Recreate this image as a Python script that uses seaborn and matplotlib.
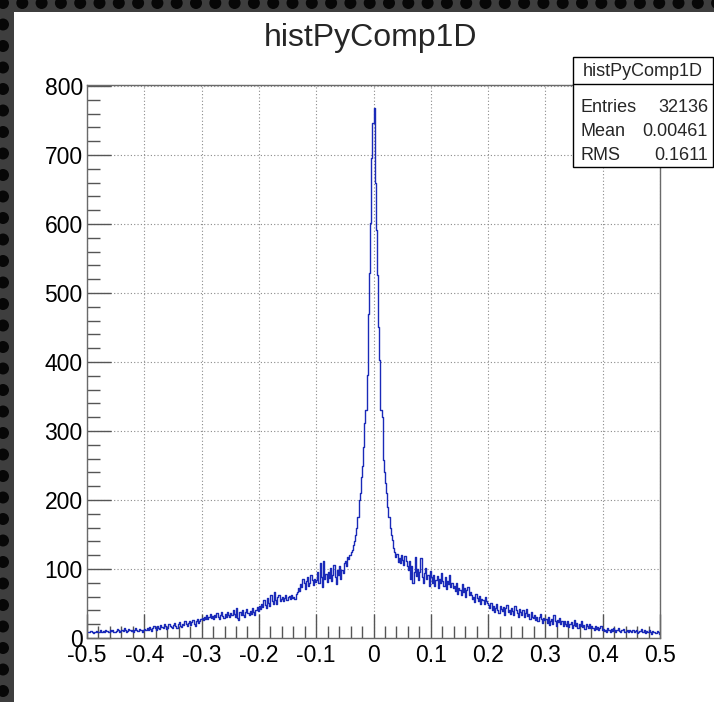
import numpy as np
import pandas as pd
import matplotlib
matplotlib.use("Agg")
import matplotlib.pyplot as plt
from matplotlib.patches import Rectangle, Circle
from matplotlib.ticker import MultipleLocator
import seaborn as sns

# ---- histogram contents: 500 bins of width 0.002 on [-0.5, 0.5] ----
n_bins = 500
x_min, x_max = -0.5, 0.5

counts_m050_m040 = [9, 8, 9, 10, 8, 7, 9, 8, 10, 9, 8, 11, 9, 8, 10, 9, 12, 10, 8, 9,
                    11, 10, 12, 9, 8, 10, 13, 11, 9, 10, 12, 10, 14, 11, 9, 10, 13, 12, 10, 11,
                    9, 12, 14, 11, 10, 13, 12, 11, 9, 12]
counts_m040_m030 = [13, 11, 14, 12, 16, 13, 10, 15, 18, 14, 12, 17, 15, 13, 19, 16, 14, 20, 17, 13,
                    15, 21, 18, 16, 14, 19, 22, 17, 15, 20, 23, 18, 16, 21, 19, 24, 20, 17, 22, 25,
                    19, 23, 26, 21, 18, 24, 27, 22, 25, 28]
counts_m030_m020 = [29, 26, 31, 28, 33, 27, 30, 35, 29, 32, 27, 34, 31, 36, 30, 28, 33, 37, 32, 29,
                    35, 31, 38, 34, 30, 36, 33, 40, 35, 31, 44, 29, 26, 38, 34, 41, 33, 30, 37, 42,
                    36, 33, 39, 35, 43, 38, 34, 41, 45, 39]
counts_m020_m010 = [46, 42, 50, 45, 55, 48, 44, 58, 51, 47, 62, 53, 49, 67, 55, 50, 59, 63, 54,
                    57, 60, 53, 58, 62, 55, 59, 61, 56, 63, 58, 60, 57, 64, 66,
                    72, 68, 78, 74, 85, 79, 71, 82, 88, 76, 80, 92, 84, 77, 86, 81]
counts_m010_m004 = [84, 96, 79, 108, 88, 74, 112, 86, 93, 81,
                    95, 87, 101, 83, 92, 106, 89, 78, 98, 91, 104, 86, 99, 94,
                    108, 112, 105, 118, 114, 121, 125]
counts_core = [128, 135, 140, 150, 160, 175, 200, 210, 233, 250,
               277, 311, 330, 381, 470, 529, 601, 696, 746, 768,
               659, 591, 526, 451, 403, 330, 320, 258, 240, 225,
               210, 190, 175, 160, 150, 142, 130, 125]
counts_p004_p010 = [118, 122, 110, 116, 108, 120, 113, 106, 119, 111, 104,
                    98, 112, 86, 104, 80, 95, 117, 90,
                    100, 84, 96, 116, 88, 79, 94, 102, 85, 91, 76, 97]
counts_p010_p020 = [88, 80, 92, 76, 84, 90, 73, 86, 79, 94, 82, 75, 88, 71, 83, 78, 91, 74, 80, 72,
                    76, 68, 80, 64, 73, 70, 62, 78, 66, 72, 60, 69, 74, 63, 67,
                    62, 56, 60, 52, 64, 58, 54, 61, 50, 57, 55, 49, 59, 53, 51]
counts_p020_p030 = [48, 43, 51, 40, 46, 38, 44, 50, 41, 36, 47, 42, 39, 45, 34, 43, 48, 37, 41, 35,
                    44, 39, 33, 46, 40, 36, 31, 42,
                    37, 33, 40, 30, 36, 42, 32, 35, 28, 38, 31,
                    29, 33, 26, 31, 24, 30, 35, 27, 22, 29, 26]
counts_p030_p040 = [27, 22, 30, 19, 25, 28, 21, 33, 24, 18, 26, 23, 29, 20, 24, 17, 25,
                    21, 18, 24, 16, 20, 23, 15, 19, 26, 17, 22, 14, 20, 18, 24, 16, 19, 13, 21, 17, 15, 20, 14, 18,
                    15, 12, 17, 13, 16, 11, 14, 18, 12]
counts_p040_p050 = [13, 10, 12, 9, 14, 11, 8, 13, 10, 15, 12, 9, 11, 14, 10, 8, 12, 11, 13, 9,
                    10, 12, 8, 11, 10,
                    9, 11, 8, 10, 12, 7, 9, 10, 13, 8, 9, 11, 7, 10, 8, 12, 9, 6, 10, 8, 9, 7, 10, 8, 6]

x_tick_values = [-0.5, -0.4, -0.3, -0.2, -0.1, 0.0, 0.1, 0.2, 0.3, 0.4, 0.5]
x_tick_labels = ["-0.5", "-0.4", "-0.3", "-0.2", "-0.1", "0", "0.1", "0.2", "0.3", "0.4", "0.5"]
y_tick_values = [0, 100, 200, 300, 400, 500, 600, 700, 800]
y_tick_labels = ["0", "100", "200", "300", "400", "500", "600", "700", "800"]

hist_name = "histPyComp1D"
stats_rows = [("Entries", "32136"), ("Mean", "0.00461"), ("RMS", "0.1611")]

counts = np.array(counts_m050_m040 + counts_m040_m030 + counts_m030_m020 + counts_m020_m010
                  + counts_m010_m004 + counts_core + counts_p004_p010 + counts_p010_p020
                  + counts_p020_p030 + counts_p030_p040 + counts_p040_p050, dtype=float)
edges = np.linspace(x_min, x_max, n_bins + 1)
centers = 0.5 * (edges[:-1] + edges[1:])
df = pd.DataFrame({"x": centers, "n": counts})

sns.set_theme(style="white")
plt.rcParams["font.family"] = ["Liberation Sans", "DejaVu Sans"]

W, H = 714, 702
fig = plt.figure(figsize=(W / 100, H / 100), dpi=100)
fig.patch.set_facecolor("#3e3e3e")

# perforated dark frame behind the canvas
bg = fig.add_axes([0, 0, 1, 1], zorder=0)
bg.set_xlim(0, W)
bg.set_ylim(H, 0)
bg.axis("off")
for cy in np.arange(3, H + 20, 21.5):
    for cx in np.arange(3, W + 20, 19.3):
        bg.add_patch(Circle((cx, cy), 6.0, color="#070707", lw=0))
bg.add_patch(Rectangle((14, 12), W - 14, H - 12, color="white", lw=0))

# main histogram frame
ax = fig.add_axes([87 / W, (H - 638) / H, 573 / W, 553 / H], zorder=2)
sns.histplot(data=df, x="x", weights="n", bins=n_bins, binrange=(x_min, x_max),
             element="step", fill=False, color="#1a2ab8", linewidth=1.0, ax=ax)
ax.set_xlim(x_min, x_max)
ax.set_ylim(0, 801.5)
ax.set_xlabel("")
ax.set_ylabel("")
ax.set_facecolor("white")

ax.set_xticks(x_tick_values)
ax.set_xticklabels(x_tick_labels)
ax.set_yticks(y_tick_values)
ax.set_yticklabels(y_tick_labels)
ax.xaxis.set_minor_locator(MultipleLocator(0.02))
ax.yaxis.set_minor_locator(MultipleLocator(20))
ax.tick_params(which="both", bottom=True, left=True, top=False, right=False)
ax.tick_params(which="major", direction="in", length=17, width=1.0, color="#555555",
               labelsize=16.5, labelcolor="black")
ax.tick_params(axis="x", which="major", pad=4)
ax.tick_params(axis="y", which="major", pad=3)
ax.tick_params(which="minor", direction="in", length=9, width=1.0, color="#555555")
ax.grid(True, which="major", linestyle=(0, (1, 2)), color="#8a8a8a", linewidth=0.8)
ax.set_axisbelow(True)
for sp in ax.spines.values():
    sp.set_color("#6a6a6a")
    sp.set_linewidth(1.0)

fig.text(370 / W, 1 - 38 / H, hist_name, ha="center", va="center", fontsize=23)

# statistics box
ov = fig.add_axes([0, 0, 1, 1], zorder=5)
ov.set_xlim(0, W)
ov.set_ylim(H, 0)
ov.axis("off")
ov.add_patch(Rectangle((573, 57), 140, 110, facecolor="white", edgecolor="black", lw=1.0))
ov.plot([573, 713], [84, 84], color="black", lw=1.0)
ov.text(643, 71, hist_name, ha="center", va="center", fontsize=13)
for (lab, val), yy in zip(stats_rows, [107, 131, 155]):
    ov.text(580, yy, lab, ha="left", va="center", fontsize=13)
    ov.text(708, yy, val, ha="right", va="center", fontsize=13)

fig.savefig("out.png", dpi=100, facecolor=fig.get_facecolor())
